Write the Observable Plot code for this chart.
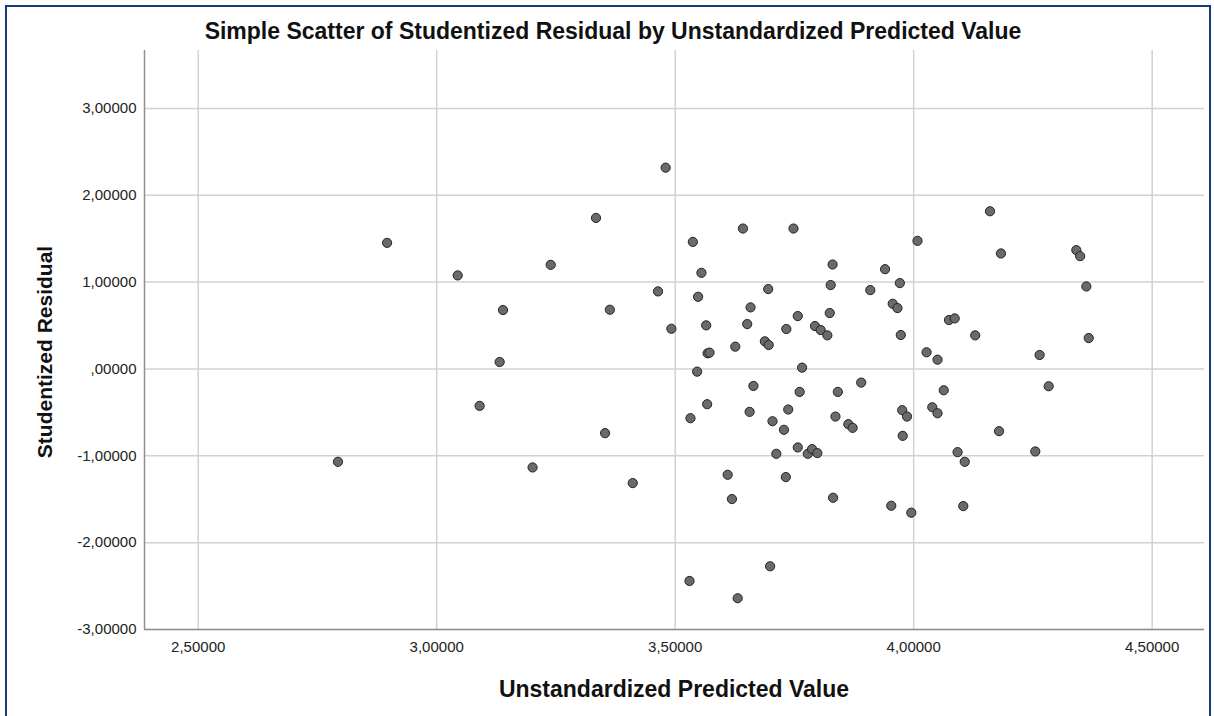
<!DOCTYPE html>
<html>
<head>
<meta charset="utf-8">
<script src="https://cdn.jsdelivr.net/npm/d3@7"></script>
<script src="https://cdn.jsdelivr.net/npm/@observablehq/plot@0.6"></script>
<style>
  html, body { margin: 0; padding: 0; background: #fff; overflow: hidden; }
  #wrap { position: relative; width: 1214px; height: 716px; overflow: hidden; }
  #border { position: absolute; left: 5px; top: 5px; width: 1202px; height: 800px; border: 2px solid #1b3a78; box-sizing: content-box; pointer-events: none; }
  #title { position: relative; height: 44px; padding-top: 18px; box-sizing: border-box; text-align: center; font-family: "Liberation Sans", Arial, sans-serif; font-weight: bold; font-size: 23px; line-height: 26px; color: #111; padding-left: 12px; white-space: nowrap; }
  #chart svg { display: block; }
  .axt { position: absolute; font-family: "Liberation Sans", Arial, sans-serif; font-weight: bold; color: #111; white-space: nowrap; line-height: 1; }
  #xt { left: 674px; top: 689px; font-size: 23px; transform: translate(-50%, -50%); }
  #yt { left: 44px; top: 352px; font-size: 21px; transform: translate(-50%, -50%) rotate(-90deg); }
</style>
</head>
<body>
<div id="wrap">
  <div id="border"></div>
  <div id="title">Simple Scatter of Studentized Residual by Unstandardized Predicted Value</div>
  <div id="chart"></div>
  <div id="xt" class="axt"></div>
  <div id="yt" class="axt"></div>
</div>
<script>
const predicted = [
  2.896, 3.044, 3.139, 3.132, 3.090, 2.793, 3.201, 3.480, 3.334, 3.239,
  3.642, 3.748, 3.537, 3.830, 3.555, 3.826, 3.909, 3.464, 3.695, 3.548,
  3.363, 3.658, 3.824, 3.757, 3.492, 3.565, 3.651, 3.733, 3.793, 3.805,
  3.819, 3.626, 3.688, 3.696, 3.568, 3.572, 3.546, 3.766, 3.664, 3.761,
  3.841, 3.890, 3.567, 3.532, 3.656, 3.737, 3.704, 3.728, 3.836, 3.863,
  3.872, 3.353, 3.411, 3.712, 3.757, 3.778, 3.787, 3.798, 3.610, 3.732,
  3.619, 3.831, 3.699, 3.530, 3.631, 4.160, 4.008, 4.183, 4.341, 4.349,
  3.940, 3.971, 4.362, 3.956, 3.966, 4.074, 4.086, 3.973, 4.129, 4.367,
  4.027, 4.050, 4.264, 4.063, 4.283, 3.976, 3.986, 4.039, 4.050, 3.977,
  4.179, 4.092, 4.107, 4.255, 3.953, 3.995, 4.104
];
const residual = [
  1.452, 1.077, 0.678, 0.080, -0.425, -1.069, -1.134, 2.318, 1.739, 1.199,
  1.617, 1.617, 1.463, 1.203, 1.107, 0.966, 0.908, 0.893, 0.920, 0.831,
  0.682, 0.709, 0.644, 0.609, 0.463, 0.502, 0.517, 0.460, 0.494, 0.448,
  0.387, 0.257, 0.318, 0.276, 0.180, 0.188, -0.031, 0.015, -0.195, -0.264,
  -0.264, -0.157, -0.406, -0.567, -0.494, -0.467, -0.602, -0.701, -0.548, -0.636,
  -0.678, -0.739, -1.314, -0.977, -0.904, -0.977, -0.923, -0.969, -1.218, -1.245,
  -1.498, -1.483, -2.272, -2.441, -2.640, 1.816, 1.475, 1.330, 1.368, 1.299,
  1.149, 0.989, 0.950, 0.751, 0.701, 0.563, 0.582, 0.391, 0.387, 0.356,
  0.192, 0.107, 0.161, -0.245, -0.199, -0.475, -0.548, -0.441, -0.510, -0.770,
  -0.716, -0.958, -1.069, -0.950, -1.575, -1.655, -1.579
];
const xTicks = [2.5, 3.0, 3.5, 4.0, 4.5];
const yTicks = [-3, -2, -1, 0, 1, 2, 3];
const xDomain = [2.3874, 4.6097];
const yDomain = [-3, 3.667];
const xTitle = "Unstandardized Predicted Value";
const yTitle = "Studentized Residual";

document.getElementById("xt").textContent = xTitle;
document.getElementById("yt").textContent = yTitle;

const data = predicted.map((p, i) => ({p, r: residual[i]}));

function fmt(v) {
  let s = Math.abs(v).toFixed(5).replace(".", ",");
  if (s.startsWith("0,")) s = s.slice(1);
  return (v < 0 ? "-" : "") + s;
}

const plot = Plot.plot({
  width: 1214,
  height: 672,
  marginTop: 6,
  marginBottom: 87,
  marginLeft: 144,
  marginRight: 10,
  style: {fontFamily: "'Liberation Sans', Arial, sans-serif", fontSize: "15px", color: "#222", background: "transparent"},
  x: {domain: xDomain, ticks: xTicks, tickFormat: fmt, tickSize: 0, tickPadding: 12, label: null},
  y: {domain: yDomain, ticks: yTicks, tickFormat: fmt, tickSize: 0, tickPadding: 8, label: null},
  marks: [
    Plot.ruleX(xTicks, {stroke: "#d2d2d2", strokeWidth: 1.5}),
    Plot.ruleY(yTicks, {stroke: "#d2d2d2", strokeWidth: 1.5}),
    Plot.ruleX([xDomain[0]], {stroke: "#8f8f8f", strokeWidth: 1.5}),
    Plot.ruleY([yDomain[0]], {stroke: "#8f8f8f", strokeWidth: 1.5}),
    Plot.dot(data, {x: "p", y: "r", r: 4.6, fill: "#6a6a6a", stroke: "#232323", strokeWidth: 1})
  ]
});
document.getElementById("chart").appendChild(plot);
</script>
</body>
</html>
